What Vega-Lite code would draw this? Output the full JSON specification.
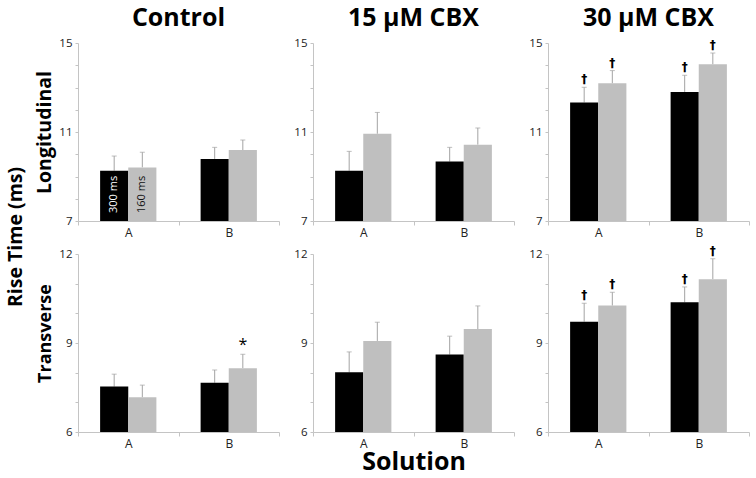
{
  "$schema": "https://vega.github.io/schema/vega-lite/v6.json",
  "padding": {"left": 6, "top": 6, "right": 3, "bottom": 3},
  "datasets": {
    "d": [
      {"cond": "Control", "dir": "L", "sol": "A", "ser": "300 ms", "mean": 9.26, "hi": 9.92, "sig": ""},
      {"cond": "Control", "dir": "L", "sol": "A", "ser": "160 ms", "mean": 9.41, "hi": 10.09, "sig": ""},
      {"cond": "Control", "dir": "L", "sol": "B", "ser": "300 ms", "mean": 9.79, "hi": 10.31, "sig": ""},
      {"cond": "Control", "dir": "L", "sol": "B", "ser": "160 ms", "mean": 10.19, "hi": 10.64, "sig": ""},
      {"cond": "15", "dir": "L", "sol": "A", "ser": "300 ms", "mean": 9.26, "hi": 10.13, "sig": ""},
      {"cond": "15", "dir": "L", "sol": "A", "ser": "160 ms", "mean": 10.92, "hi": 11.88, "sig": ""},
      {"cond": "15", "dir": "L", "sol": "B", "ser": "300 ms", "mean": 9.67, "hi": 10.31, "sig": ""},
      {"cond": "15", "dir": "L", "sol": "B", "ser": "160 ms", "mean": 10.43, "hi": 11.18, "sig": ""},
      {"cond": "30", "dir": "L", "sol": "A", "ser": "300 ms", "mean": 12.33, "hi": 13.01, "sig": "†"},
      {"cond": "30", "dir": "L", "sol": "A", "ser": "160 ms", "mean": 13.19, "hi": 13.76, "sig": "†"},
      {"cond": "30", "dir": "L", "sol": "B", "ser": "300 ms", "mean": 12.8, "hi": 13.55, "sig": "†"},
      {"cond": "30", "dir": "L", "sol": "B", "ser": "160 ms", "mean": 14.04, "hi": 14.55, "sig": "†"},
      {"cond": "Control", "dir": "T", "sol": "A", "ser": "300 ms", "mean": 7.53, "hi": 7.95, "sig": ""},
      {"cond": "Control", "dir": "T", "sol": "A", "ser": "160 ms", "mean": 7.17, "hi": 7.58, "sig": ""},
      {"cond": "Control", "dir": "T", "sol": "B", "ser": "300 ms", "mean": 7.66, "hi": 8.09, "sig": ""},
      {"cond": "Control", "dir": "T", "sol": "B", "ser": "160 ms", "mean": 8.15, "hi": 8.62, "sig": "*"},
      {"cond": "15", "dir": "T", "sol": "A", "ser": "300 ms", "mean": 8.01, "hi": 8.7, "sig": ""},
      {"cond": "15", "dir": "T", "sol": "A", "ser": "160 ms", "mean": 9.07, "hi": 9.7, "sig": ""},
      {"cond": "15", "dir": "T", "sol": "B", "ser": "300 ms", "mean": 8.61, "hi": 9.23, "sig": ""},
      {"cond": "15", "dir": "T", "sol": "B", "ser": "160 ms", "mean": 9.47, "hi": 10.25, "sig": ""},
      {"cond": "30", "dir": "T", "sol": "A", "ser": "300 ms", "mean": 9.72, "hi": 10.34, "sig": "†"},
      {"cond": "30", "dir": "T", "sol": "A", "ser": "160 ms", "mean": 10.26, "hi": 10.71, "sig": "†"},
      {"cond": "30", "dir": "T", "sol": "B", "ser": "300 ms", "mean": 10.37, "hi": 10.89, "sig": "†"},
      {"cond": "30", "dir": "T", "sol": "B", "ser": "160 ms", "mean": 11.15, "hi": 11.84, "sig": "†"}
    ]
  },
  "title": {"text": "Rise Time (ms)", "orient": "left", "anchor": "middle", "fontSize": 19.5, "offset": 8, "dx": 3},
  "spacing": 6,
  "vconcat": [
    {
      "bounds": "flush",
      "spacing": 34,
      "hconcat": [
        {
          "width": 201, "height": 178,
          "title": "Control",
          "data": {"name": "d"},
          "transform": [{"filter": "datum.cond == 'Control' && datum.dir == 'L'"}],
          "encoding": {
            "x": {"field": "sol", "type": "nominal", "scale": {"paddingInner": 0, "paddingOuter": 0}, "axis": {"title": null}},
            "xOffset": {"field": "ser", "type": "nominal", "sort": ["300 ms", "160 ms"], "scale": {"paddingInner": 0, "paddingOuter": 0.786}}
          },
          "layer": [
            {"mark": {"type": "rule", "color": "#a3a3a3", "strokeWidth": 1}, "encoding": {"y": {"field": "mean", "type": "quantitative", "title": "Longitudinal"}, "y2": {"field": "hi"}}},
            {"mark": {"type": "tick", "color": "#a3a3a3", "thickness": 1, "size": 5}, "encoding": {"y": {"field": "hi", "type": "quantitative", "title": "Longitudinal"}}},
            {"mark": {"type": "bar"}, "encoding": {
              "y": {"field": "mean", "type": "quantitative", "title": "Longitudinal", "scale": {"domain": [7, 15], "nice": false, "zero": false}, "axis": {"values": [7, 8, 9, 10, 11, 12, 13, 14, 15], "tickCount": 30, "format": "d", "labelOverlap": false, "labelExpr": "datum.value == 7 || datum.value == 11 || datum.value == 15 ? datum.label : ''", "titleFontSize": 19.5}},
              "y2": {"datum": 7},
              "color": {"field": "ser", "type": "nominal", "scale": {"domain": ["300 ms", "160 ms"], "range": ["#000000", "#bfbfbf"]}, "legend": null}}},
            {"mark": {"type": "text", "baseline": "alphabetic", "dy": -4, "fontSize": 12, "font": "DejaVu Sans", "fontWeight": "bold", "color": "#000"}, "encoding": {"y": {"field": "hi", "type": "quantitative", "title": "Longitudinal"}, "text": {"field": "sig"}}},
            {"transform": [{"filter": "datum.sol == 'A'"}], "mark": {"type": "text", "angle": 270, "align": "left", "baseline": "middle", "dx": 8, "fontSize": 11}, "encoding": {"y": {"datum": 7}, "text": {"field": "ser"}, "color": {"condition": {"test": "datum.ser == '300 ms'", "value": "#ffffff"}, "value": "#111111"}}}
          ]
        },
        {
          "width": 201, "height": 178,
          "title": "15 µM CBX",
          "data": {"name": "d"},
          "transform": [{"filter": "datum.cond == '15' && datum.dir == 'L'"}],
          "encoding": {
            "x": {"field": "sol", "type": "nominal", "scale": {"paddingInner": 0, "paddingOuter": 0}, "axis": {"title": null}},
            "xOffset": {"field": "ser", "type": "nominal", "sort": ["300 ms", "160 ms"], "scale": {"paddingInner": 0, "paddingOuter": 0.786}}
          },
          "layer": [
            {"mark": {"type": "rule", "color": "#a3a3a3", "strokeWidth": 1}, "encoding": {"y": {"field": "mean", "type": "quantitative", "title": null}, "y2": {"field": "hi"}}},
            {"mark": {"type": "tick", "color": "#a3a3a3", "thickness": 1, "size": 5}, "encoding": {"y": {"field": "hi", "type": "quantitative", "title": null}}},
            {"mark": {"type": "bar"}, "encoding": {
              "y": {"field": "mean", "type": "quantitative", "title": null, "scale": {"domain": [7, 15], "nice": false, "zero": false}, "axis": {"values": [7, 8, 9, 10, 11, 12, 13, 14, 15], "tickCount": 30, "format": "d", "labelOverlap": false, "labelExpr": "datum.value == 7 || datum.value == 11 || datum.value == 15 ? datum.label : ''"}},
              "y2": {"datum": 7},
              "color": {"field": "ser", "type": "nominal", "scale": {"domain": ["300 ms", "160 ms"], "range": ["#000000", "#bfbfbf"]}, "legend": null}}},
            {"mark": {"type": "text", "baseline": "alphabetic", "dy": -4, "fontSize": 12, "font": "DejaVu Sans", "fontWeight": "bold", "color": "#000"}, "encoding": {"y": {"field": "hi", "type": "quantitative", "title": null}, "text": {"field": "sig"}}}
          ]
        },
        {
          "width": 201, "height": 178,
          "title": "30 µM CBX",
          "data": {"name": "d"},
          "transform": [{"filter": "datum.cond == '30' && datum.dir == 'L'"}],
          "encoding": {
            "x": {"field": "sol", "type": "nominal", "scale": {"paddingInner": 0, "paddingOuter": 0}, "axis": {"title": null}},
            "xOffset": {"field": "ser", "type": "nominal", "sort": ["300 ms", "160 ms"], "scale": {"paddingInner": 0, "paddingOuter": 0.786}}
          },
          "layer": [
            {"mark": {"type": "rule", "color": "#a3a3a3", "strokeWidth": 1}, "encoding": {"y": {"field": "mean", "type": "quantitative", "title": null}, "y2": {"field": "hi"}}},
            {"mark": {"type": "tick", "color": "#a3a3a3", "thickness": 1, "size": 5}, "encoding": {"y": {"field": "hi", "type": "quantitative", "title": null}}},
            {"mark": {"type": "bar"}, "encoding": {
              "y": {"field": "mean", "type": "quantitative", "title": null, "scale": {"domain": [7, 15], "nice": false, "zero": false}, "axis": {"values": [7, 8, 9, 10, 11, 12, 13, 14, 15], "tickCount": 30, "format": "d", "labelOverlap": false, "labelExpr": "datum.value == 7 || datum.value == 11 || datum.value == 15 ? datum.label : ''"}},
              "y2": {"datum": 7},
              "color": {"field": "ser", "type": "nominal", "scale": {"domain": ["300 ms", "160 ms"], "range": ["#000000", "#bfbfbf"]}, "legend": null}}},
            {"mark": {"type": "text", "baseline": "alphabetic", "dy": -4, "fontSize": 12, "font": "DejaVu Sans", "fontWeight": "bold", "color": "#000"}, "encoding": {"y": {"field": "hi", "type": "quantitative", "title": null}, "text": {"field": "sig"}}}
          ]
        }
      ]
    },
    {
      "bounds": "flush",
      "spacing": 34,
      "hconcat": [
        {
          "width": 201, "height": 178,
          "data": {"name": "d"},
          "transform": [{"filter": "datum.cond == 'Control' && datum.dir == 'T'"}],
          "encoding": {
            "x": {"field": "sol", "type": "nominal", "scale": {"paddingInner": 0, "paddingOuter": 0}, "axis": {"title": null}},
            "xOffset": {"field": "ser", "type": "nominal", "sort": ["300 ms", "160 ms"], "scale": {"paddingInner": 0, "paddingOuter": 0.786}}
          },
          "layer": [
            {"mark": {"type": "rule", "color": "#a3a3a3", "strokeWidth": 1}, "encoding": {"y": {"field": "mean", "type": "quantitative", "title": "Transverse"}, "y2": {"field": "hi"}}},
            {"mark": {"type": "tick", "color": "#a3a3a3", "thickness": 1, "size": 5}, "encoding": {"y": {"field": "hi", "type": "quantitative", "title": "Transverse"}}},
            {"mark": {"type": "bar"}, "encoding": {
              "y": {"field": "mean", "type": "quantitative", "title": "Transverse", "scale": {"domain": [6, 12], "nice": false, "zero": false}, "axis": {"values": [6, 7, 8, 9, 10, 11, 12], "tickCount": 30, "format": "d", "labelOverlap": false, "labelExpr": "datum.value == 6 || datum.value == 9 || datum.value == 12 ? datum.label : ''", "titleY": 79}},
              "y2": {"datum": 6},
              "color": {"field": "ser", "type": "nominal", "scale": {"domain": ["300 ms", "160 ms"], "range": ["#000000", "#bfbfbf"]}, "legend": null}}},
            {"mark": {"type": "text", "baseline": "alphabetic", "dy": -4, "fontSize": 16, "color": "#000"}, "encoding": {"y": {"field": "hi", "type": "quantitative", "title": "Transverse"}, "text": {"field": "sig"}}}
          ]
        },
        {
          "width": 201, "height": 178,
          "data": {"name": "d"},
          "transform": [{"filter": "datum.cond == '15' && datum.dir == 'T'"}],
          "encoding": {
            "x": {"field": "sol", "type": "nominal", "title": "Solution", "scale": {"paddingInner": 0, "paddingOuter": 0}},
            "xOffset": {"field": "ser", "type": "nominal", "sort": ["300 ms", "160 ms"], "scale": {"paddingInner": 0, "paddingOuter": 0.786}}
          },
          "layer": [
            {"mark": {"type": "rule", "color": "#a3a3a3", "strokeWidth": 1}, "encoding": {"y": {"field": "mean", "type": "quantitative", "title": null}, "y2": {"field": "hi"}}},
            {"mark": {"type": "tick", "color": "#a3a3a3", "thickness": 1, "size": 5}, "encoding": {"y": {"field": "hi", "type": "quantitative", "title": null}}},
            {"mark": {"type": "bar"}, "encoding": {
              "y": {"field": "mean", "type": "quantitative", "title": null, "scale": {"domain": [6, 12], "nice": false, "zero": false}, "axis": {"values": [6, 7, 8, 9, 10, 11, 12], "tickCount": 30, "format": "d", "labelOverlap": false, "labelExpr": "datum.value == 6 || datum.value == 9 || datum.value == 12 ? datum.label : ''"}},
              "y2": {"datum": 6},
              "color": {"field": "ser", "type": "nominal", "scale": {"domain": ["300 ms", "160 ms"], "range": ["#000000", "#bfbfbf"]}, "legend": null}}},
            {"mark": {"type": "text", "baseline": "alphabetic", "dy": -4, "fontSize": 12, "font": "DejaVu Sans", "fontWeight": "bold", "color": "#000"}, "encoding": {"y": {"field": "hi", "type": "quantitative", "title": null}, "text": {"field": "sig"}}}
          ]
        },
        {
          "width": 201, "height": 178,
          "data": {"name": "d"},
          "transform": [{"filter": "datum.cond == '30' && datum.dir == 'T'"}],
          "encoding": {
            "x": {"field": "sol", "type": "nominal", "scale": {"paddingInner": 0, "paddingOuter": 0}, "axis": {"title": null}},
            "xOffset": {"field": "ser", "type": "nominal", "sort": ["300 ms", "160 ms"], "scale": {"paddingInner": 0, "paddingOuter": 0.786}}
          },
          "layer": [
            {"mark": {"type": "rule", "color": "#a3a3a3", "strokeWidth": 1}, "encoding": {"y": {"field": "mean", "type": "quantitative", "title": null}, "y2": {"field": "hi"}}},
            {"mark": {"type": "tick", "color": "#a3a3a3", "thickness": 1, "size": 5}, "encoding": {"y": {"field": "hi", "type": "quantitative", "title": null}}},
            {"mark": {"type": "bar"}, "encoding": {
              "y": {"field": "mean", "type": "quantitative", "title": null, "scale": {"domain": [6, 12], "nice": false, "zero": false}, "axis": {"values": [6, 7, 8, 9, 10, 11, 12], "tickCount": 30, "format": "d", "labelOverlap": false, "labelExpr": "datum.value == 6 || datum.value == 9 || datum.value == 12 ? datum.label : ''"}},
              "y2": {"datum": 6},
              "color": {"field": "ser", "type": "nominal", "scale": {"domain": ["300 ms", "160 ms"], "range": ["#000000", "#bfbfbf"]}, "legend": null}}},
            {"mark": {"type": "text", "baseline": "alphabetic", "dy": -4, "fontSize": 12, "font": "DejaVu Sans", "fontWeight": "bold", "color": "#000"}, "encoding": {"y": {"field": "hi", "type": "quantitative", "title": null}, "text": {"field": "sig"}}}
          ]
        }
      ]
    }
  ],
  "config": {
    "font": "Open Sans",
    "view": {"stroke": null},
    "axis": {"domainColor": "#c4c4c4", "tickColor": "#c4c4c4", "labelColor": "#222222", "labelFont": "Open Sans", "titleFont": "Open Sans", "titleFontWeight": "bold", "titleColor": "#000000", "grid": false},
    "axisY": {"labelFontSize": 11.5, "tickSize": 3, "labelPadding": 3, "labelOverlap": false, "titleFontSize": 18, "titlePadding": 4},
    "axisX": {"labelFontSize": 12, "labelAngle": 0, "tickBand": "extent", "tickSize": 4, "labelPadding": 2, "titleFontSize": 25, "titlePadding": 0},
    "title": {"font": "Open Sans", "fontSize": 25, "fontWeight": "bold", "color": "#000000", "offset": 6}
  }
}
